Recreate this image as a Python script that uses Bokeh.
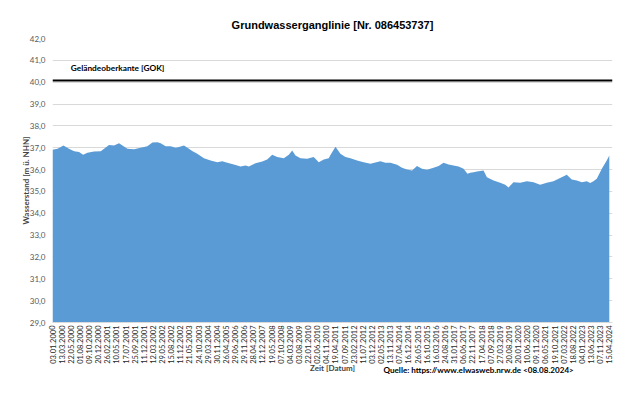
from bokeh.plotting import figure
from bokeh.models import FixedTicker, Label, Span
from bokeh.embed import file_html
from bokeh.resources import INLINE

date_labels = [
    "03.01.2000", "13.03.2000", "22.05.2000", "01.08.2000", "09.10.2000", "20.12.2000",
    "26.02.2001", "10.05.2001", "17.07.2001", "25.09.2001", "11.12.2001", "12.03.2002",
    "29.05.2002", "15.08.2002", "11.12.2002", "21.05.2003", "24.10.2003", "29.03.2004",
    "30.11.2004", "26.04.2005", "29.06.2006", "29.11.2006", "28.04.2007", "12.12.2007",
    "19.05.2008", "07.10.2008", "04.03.2009", "03.08.2009", "22.01.2010", "02.06.2010",
    "04.11.2010", "19.04.2011", "07.09.2011", "23.02.2012", "11.07.2012", "03.12.2012",
    "02.05.2013", "13.11.2013", "07.04.2014", "16.12.2014", "26.05.2015", "16.10.2015",
    "16.03.2016", "24.08.2016", "31.01.2017", "06.06.2017", "22.11.2017", "17.04.2018",
    "07.09.2018", "27.03.2019", "20.08.2019", "20.01.2020", "10.06.2020", "09.11.2020",
    "06.05.2021", "19.10.2021", "07.03.2022", "18.08.2022", "04.01.2023", "13.06.2023",
    "07.11.2023", "15.04.2024",
]

y_ticks = [29, 30, 31, 32, 33, 34, 35, 36, 37, 38, 39, 40, 41, 42]
y_tick_labels = ["29,0", "30,0", "31,0", "32,0", "33,0", "34,0", "35,0", "36,0",
                 "37,0", "38,0", "39,0", "40,0", "41,0", "42,0"]

# position along the measurement axis (index of date label) and water level [m ü. NHN]
pos = [0.0, 0.55, 1.2, 1.8, 2.37, 2.91, 3.35, 3.83, 4.55, 5.28, 5.65, 6.19, 6.74,
       7.29, 7.66, 8.21, 8.93, 9.66, 10.39, 10.94, 11.49, 11.85, 12.40, 12.94, 13.49,
       13.85, 14.40, 14.95, 15.30, 15.86, 16.59, 17.32, 18.05, 18.6, 19.15, 19.87,
       20.6, 21.15, 21.51, 22.24, 22.98, 23.52, 24.07, 24.62, 25.34, 25.89, 26.26,
       26.62, 27.17, 27.9, 28.62, 29.17, 29.72, 30.26, 30.50, 31.0, 31.54, 32.09,
       32.64, 33.37, 34.09, 34.83, 35.92, 36.47, 37.01, 37.75, 38.29, 38.84, 39.39,
       39.93, 40.48, 41.03, 41.75, 42.3, 42.84, 43.39, 43.93, 44.48, 45.03, 45.46,
       45.77, 46.12, 46.5, 47.22, 47.59, 48.32, 49.05, 49.6, 49.96, 50.5, 51.24,
       51.97, 52.7, 53.42, 54.15, 54.88, 55.61, 56.34, 56.89, 57.44, 57.99, 58.53,
       58.9, 59.26, 59.63, 60.18, 60.72, 61.0]
level = [36.91, 36.95, 37.10, 36.95, 36.84, 36.80, 36.68, 36.77, 36.83, 36.84, 36.95,
         37.12, 37.10, 37.21, 37.10, 36.95, 36.93, 37.00, 37.07, 37.24, 37.25, 37.21,
         37.07, 37.07, 37.00, 37.03, 37.10, 36.95, 36.85, 36.72, 36.52, 36.42, 36.34,
         36.38, 36.31, 36.23, 36.14, 36.19, 36.14, 36.29, 36.37, 36.46, 36.68, 36.57,
         36.52, 36.68, 36.87, 36.65, 36.52, 36.49, 36.57, 36.34, 36.46, 36.52, 36.70,
         37.05, 36.72, 36.57, 36.52, 36.42, 36.34, 36.27, 36.38, 36.31, 36.31, 36.22,
         36.08, 36.00, 35.96, 36.16, 36.04, 35.99, 36.08, 36.16, 36.31, 36.23, 36.19,
         36.14, 36.04, 35.81, 35.85, 35.88, 35.91, 35.96, 35.65, 35.50, 35.40, 35.30,
         35.18, 35.42, 35.40, 35.46, 35.42, 35.30, 35.40, 35.46, 35.61, 35.76, 35.55,
         35.50, 35.42, 35.46, 35.38, 35.46, 35.58, 36.04, 36.42, 36.65]

gok_level = 40.08
y_min, y_max = 29, 42

p = figure(width=624, height=390, x_range=(0, 61.35), y_range=(y_min, y_max),
           output_backend="svg", toolbar_location=None,
           title="Grundwasserganglinie [Nr. 086453737]",
           min_border_left=52, min_border_right=12, min_border_top=38,
           min_border_bottom=68)
p.outline_line_color = None
p.background_fill_color = "white"

p.title.align = "center"
p.title.text_font = "Liberation Sans"
p.title.text_font_style = "bold"
p.title.text_font_size = "11px"
p.title.text_color = "black"
p.title.standoff = 16

p.varea(x=pos, y1=y_min, y2=level, fill_color="#5B9BD5", fill_alpha=1.0)

p.add_layout(Span(location=gok_level, dimension="width", line_color="black",
                  line_width=2))

p.add_layout(Label(x=2.0, y=40.63, text="Geländeoberkante [GOK]",
                   text_font="Lato", text_font_style="bold", text_font_size="8.3px",
                   text_baseline="middle", text_align="left", text_color="black"))

p.add_layout(Label(x=331, y=16, x_units="screen", y_units="screen",
                   text="Quelle:  https://www.elwasweb.nrw.de <08.08.2024>",
                   text_font="Lato", text_font_style="bold", text_font_size="8.1px",
                   text_baseline="middle", text_align="left", text_color="black"),
             "below")

p.xgrid.grid_line_color = None
p.ygrid.grid_line_color = "#d9d9d9"
p.ygrid.ticker = FixedTicker(ticks=y_ticks)

p.yaxis.ticker = FixedTicker(ticks=y_ticks)
p.yaxis.major_label_overrides = {t: s for t, s in zip(y_ticks, y_tick_labels)}
p.yaxis.axis_line_color = None
p.yaxis.major_tick_line_color = None
p.yaxis.minor_tick_line_color = None
p.yaxis.major_tick_out = 0
p.yaxis.major_tick_in = 0
p.yaxis.minor_tick_out = 0
p.yaxis.major_label_text_font = "Lato"
p.yaxis.major_label_text_font_size = "8px"
p.yaxis.major_label_text_color = "#595959"
p.yaxis.major_label_standoff = 7
p.yaxis.axis_label = "Wasserstand [m ü. NHN]"
p.yaxis.axis_label_text_font = "Lato"
p.yaxis.axis_label_text_font_style = "bold"
p.yaxis.axis_label_text_font_size = "8px"
p.yaxis.axis_label_standoff = -4

p.xaxis.ticker = FixedTicker(ticks=list(range(len(date_labels))))
p.xaxis.major_label_overrides = {i: s for i, s in enumerate(date_labels)}
p.xaxis.major_label_orientation = 1.5708
p.xaxis.axis_line_color = "#d9d9d9"
p.xaxis.major_tick_line_color = None
p.xaxis.minor_tick_line_color = None
p.xaxis.major_tick_out = 0
p.xaxis.major_tick_in = 0
p.xaxis.minor_tick_out = 0
p.xaxis.major_label_text_font = "Lato"
p.xaxis.major_label_text_font_size = "7.5px"
p.xaxis.major_label_text_color = "#262626"
p.xaxis.major_label_standoff = 3
p.xaxis.axis_label = "Zeit [Datum]"
p.xaxis.axis_label_text_font = "Lato"
p.xaxis.axis_label_text_font_style = "bold"
p.xaxis.axis_label_text_font_size = "8px"
p.xaxis.axis_label_standoff = -4

open("out.html", "w").write(file_html(p, INLINE))
